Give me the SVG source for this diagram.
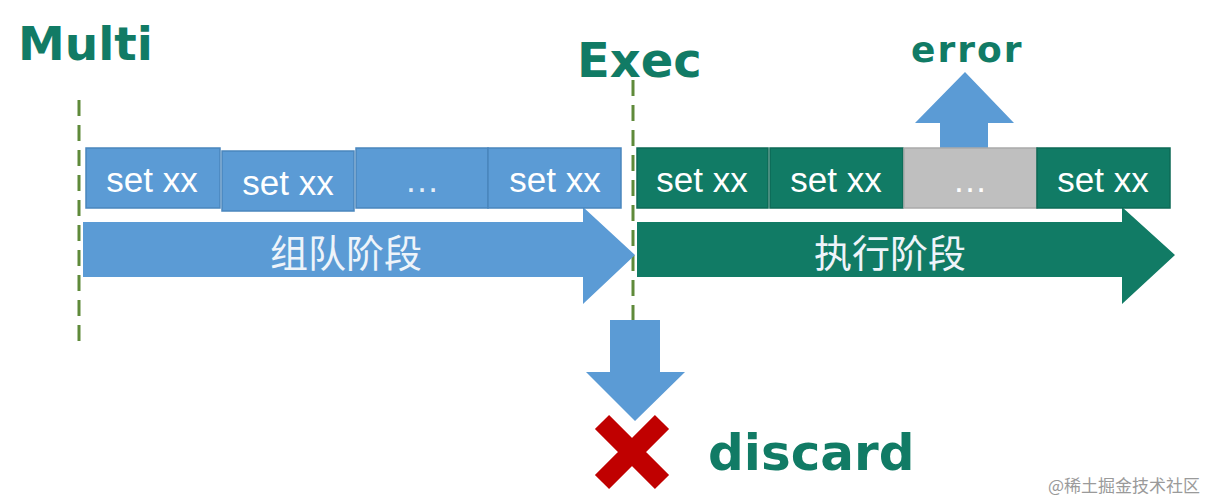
<svg xmlns="http://www.w3.org/2000/svg" width="1216" height="501" viewBox="0 0 1216 501">
<style>
.title{font-family:"DejaVu Sans","Verdana",sans-serif;font-weight:bold;fill:#117b65}
.bb{fill:#5b9bd5;stroke:#4a86bd;stroke-width:1.5}
.gb{fill:#117b65;stroke:#0d6a56;stroke-width:1.5}
.gr{fill:#bfbfbf;stroke:#aaaaaa;stroke-width:1.5}
.bt{font-family:"Liberation Sans","Arial",sans-serif;font-size:35px;fill:#ffffff;text-anchor:middle}
.ct{font-family:"Noto Sans CJK SC","Liberation Sans",sans-serif;font-size:38px;fill:#eef4fa;text-anchor:middle}
.dash{stroke:#5f8a3a;stroke-width:3;stroke-dasharray:16 9;fill:none}
</style>
<rect width="1216" height="501" fill="#ffffff"/>
<g id="labels">
<text class="title" x="18" y="60" font-size="47">Multi</text>
<text class="title" x="577" y="77" font-size="48">Exec</text>
<text class="title" x="911" y="62" font-size="36" letter-spacing="2">error</text>
<text class="title" x="708" y="470" font-size="50">discard</text>
</g>
<g id="connectors">
<line class="dash" x1="79" y1="100" x2="79" y2="342"/>
<line class="dash" x1="633" y1="80" x2="633" y2="330"/>
<path id="error-arrow" d="M940 148 V123 H915 L965 72 L1014 123 H988 V148 Z" fill="#5b9bd5"/>
<path id="discard-arrow" d="M610 320 H660 V372 H685 L635 421 L586 372 H610 Z" fill="#5b9bd5"/>
</g>
<g id="queue-phase">
<path d="M83 222 H583 V207 L635 255 L583 304 V277 H83 Z" fill="#5b9bd5"/>
<text class="ct" x="346" y="267">组队阶段</text>
</g>
<g id="exec-phase">
<path d="M637 222 H1122 V207 L1175 255 L1122 304 V277 H637 Z" fill="#117b65"/>
<text class="ct" x="890" y="267">执行阶段</text>
</g>
<g id="q1"><rect class="bb" x="86" y="148" width="134" height="60"/><text class="bt" x="152" y="192">set xx</text></g>
<g id="q2"><rect class="bb" x="222" y="151" width="132" height="60"/><text class="bt" x="288" y="195">set xx</text></g>
<g id="q3"><rect class="bb" x="356" y="148" width="132" height="60"/><text class="bt" x="422" y="192" font-size="26" fill-opacity="0.85">…</text></g>
<g id="q4"><rect class="bb" x="488" y="148" width="133" height="60"/><text class="bt" x="555" y="192">set xx</text></g>
<g id="e1"><rect class="gb" x="637" y="148" width="131" height="60"/><text class="bt" x="702" y="192">set xx</text></g>
<g id="e2"><rect class="gb" x="770" y="148" width="133" height="60"/><text class="bt" x="836" y="192">set xx</text></g>
<g id="e3"><rect class="gr" x="904" y="148" width="133" height="60"/><text class="bt" x="970" y="192" font-size="26" fill="#e6e6e6">…</text></g>
<g id="e4"><rect class="gb" x="1037" y="148" width="133" height="60"/><text class="bt" x="1103" y="192">set xx</text></g>
<g id="discard-x">
<path d="M602 422 L662 482 M662 422 L602 482" stroke="#c00000" stroke-width="20" fill="none"/>
</g>
<text x="1048" y="492" font-family="Noto Sans CJK SC,sans-serif" font-size="17" fill="#9a9a9a">@稀土掘金技术社区</text>
</svg>
